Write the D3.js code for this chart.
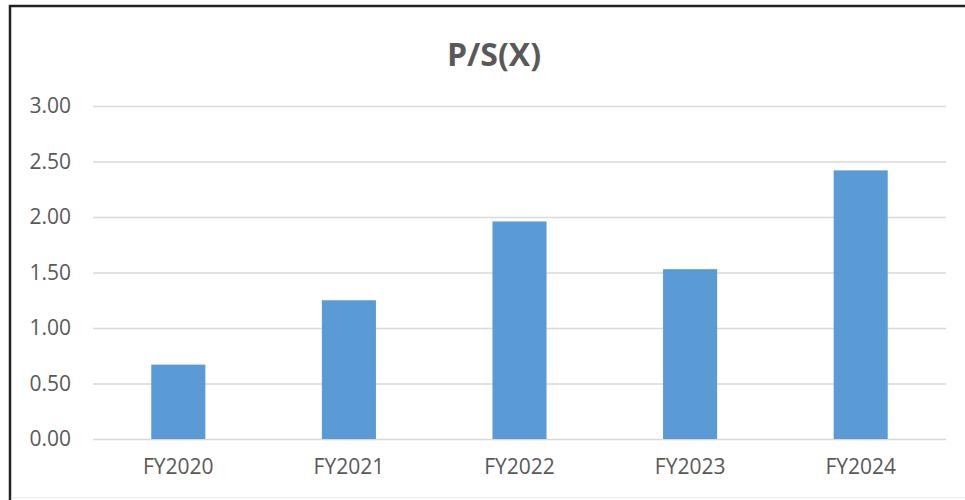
<!DOCTYPE html>
<html>
<head>
<meta charset="utf-8">
<script src="https://cdn.jsdelivr.net/npm/d3@7"></script>
<style>
  body { margin: 0; background: #fff; }
  svg { display: block; }
</style>
</head>
<body>
<script>
// Chart data
var categories = ["FY2020", "FY2021", "FY2022", "FY2023", "FY2024"];
var psValues = [0.67, 1.25, 1.96, 1.53, 2.42];
var yTicks = [0, 0.5, 1.0, 1.5, 2.0, 2.5, 3.0];
var chartTitle = "P/S(X)";

// Screen dimensions
let W = 965, H = 500;
let margin = {top: 106, right: 19, bottom: 61, left: 93};
let width = W - margin.left - margin.right;
let height = H - margin.top - margin.bottom;

var svg = d3.select("body").append("svg")
    .attr("width", W)
    .attr("height", H);

// frame: dark top and left edges, faint bottom
svg.append("line").attr("x1", 9).attr("x2", W).attr("y1", 6).attr("y2", 6)
    .attr("stroke", "#222").attr("stroke-width", 2.5);
svg.append("line").attr("x1", 10).attr("x2", 10).attr("y1", 5).attr("y2", H)
    .attr("stroke", "#222").attr("stroke-width", 2.5);
svg.append("line").attr("x1", 11).attr("x2", W).attr("y1", 497.5).attr("y2", 497.5)
    .attr("stroke", "#ececec").attr("stroke-width", 1);

// Scales
var xScale = d3.scaleBand()
    .domain(categories)
    .range([0, width])
    .paddingInner(0.683)
    .paddingOuter(0.3415);
var yScale = d3.scaleLinear()
    .domain([0, 3])
    .range([height, 0]);

var g = svg.append("g")
    .attr("transform", "translate(" + margin.left + "," + margin.top + ")");

// title (sits a little left of the plot centre, as in the original)
svg.append("text")
    .attr("x", 494)
    .attr("y", 66)
    .attr("text-anchor", "middle")
    .attr("font-family", "'Open Sans', sans-serif")
    .attr("font-weight", "bold")
    .attr("font-size", 32)
    .attr("fill", "#595959")
    .text(chartTitle);

// y axis with gridlines
var yAxis = g.append("g")
    .call(d3.axisLeft(yScale)
        .tickValues(yTicks)
        .tickSize(-width)
        .tickPadding(22)
        .tickFormat(d3.format(".2f")));
yAxis.select(".domain").remove();
yAxis.selectAll(".tick line")
    .attr("stroke", "#d9d9d9")
    .attr("stroke-width", 1.5);
yAxis.selectAll(".tick text")
    .attr("fill", "#595959")
    .attr("font-family", "'Open Sans', sans-serif")
    .attr("font-size", 21);

// x axis
var xAxis = g.append("g")
    .attr("transform", "translate(0," + height + ")")
    .call(d3.axisBottom(xScale).tickSize(0).tickPadding(20));
xAxis.select(".domain").remove();
xAxis.selectAll(".tick text")
    .attr("fill", "#595959")
    .attr("font-family", "'Open Sans', sans-serif")
    .attr("font-size", 21);

// bars
g.selectAll(".bar")
    .data(psValues)
  .enter().append("rect")
    .attr("class", "bar")
    .attr("x", function(d, i) { return xScale(categories[i]); })
    .attr("y", function(d) { return yScale(d); })
    .attr("width", xScale.bandwidth())
    .attr("height", function(d) { return height - yScale(d); })
    .attr("fill", "#5b9bd5");
</script>
</body>
</html>
